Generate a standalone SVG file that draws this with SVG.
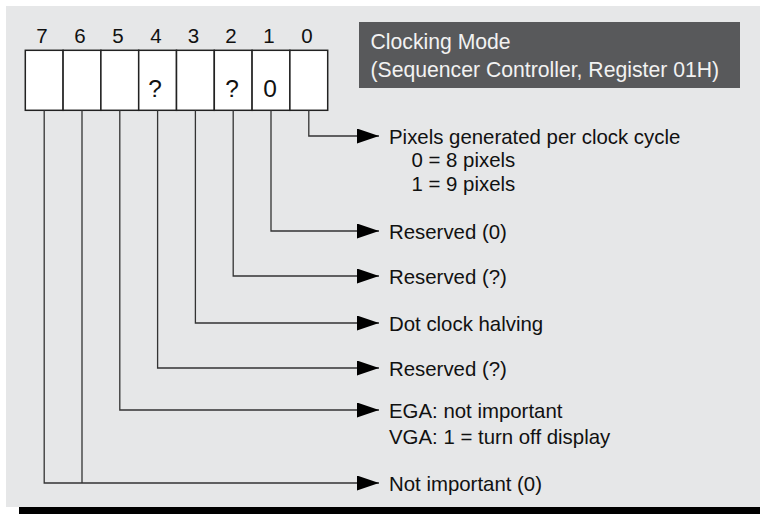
<svg xmlns="http://www.w3.org/2000/svg" width="760" height="514" viewBox="0 0 760 514">
<style>
text{font-family:"Liberation Sans",Arial,sans-serif;fill:#111}
.bit{font-size:20.5px;text-anchor:middle}
.val{font-size:24.5px;text-anchor:middle}
.lbl{font-size:20.4px}
.ttl{font-size:21.2px;fill:#f2f2f2}
.cell{fill:#fff;stroke:#222;stroke-width:1.5}
.wire{fill:none;stroke:#333;stroke-width:1.3}
</style>
<defs>
<marker id="ah" viewBox="0 0 22 15" refX="22" refY="7.5" markerWidth="22" markerHeight="15" markerUnits="userSpaceOnUse" orient="auto">
<path d="M0,0 L22,7.5 L0,15 Z" fill="#000"/>
</marker>
</defs>
<rect x="0" y="0" width="760" height="514" fill="#fff"/>
<rect x="6" y="6" width="754" height="501" fill="#e6e7e8"/>
<rect x="19" y="507" width="741" height="7" fill="#000"/>

<g id="title">
<rect x="359" y="22" width="381" height="66" fill="#58595b"/>
<text class="ttl" x="370.5" y="49">Clocking Mode</text>
<text class="ttl" x="370.5" y="77">(Sequencer Controller, Register 01H)</text>
</g>

<g id="register">
<rect class="cell" x="25.3" y="50.3" width="37.8" height="60"/>
<rect class="cell" x="63.1" y="50.3" width="37.8" height="60"/>
<rect class="cell" x="100.9" y="50.3" width="37.8" height="60"/>
<rect class="cell" x="138.7" y="50.3" width="37.8" height="60"/>
<rect class="cell" x="176.5" y="50.3" width="37.8" height="60"/>
<rect class="cell" x="214.3" y="50.3" width="37.8" height="60"/>
<rect class="cell" x="252.1" y="50.3" width="37.8" height="60"/>
<rect class="cell" x="289.9" y="50.3" width="37.8" height="60"/>
<text class="bit" x="42" y="42.7">7</text>
<text class="bit" x="80" y="42.7">6</text>
<text class="bit" x="118" y="42.7">5</text>
<text class="bit" x="156" y="42.7">4</text>
<text class="bit" x="193.5" y="42.7">3</text>
<text class="bit" x="231" y="42.7">2</text>
<text class="bit" x="269" y="42.7">1</text>
<text class="bit" x="307" y="42.7">0</text>
<text class="val" x="155" y="97">?</text>
<text class="val" x="232" y="97">?</text>
<text class="val" x="270" y="97">0</text>
</g>

<g id="connectors">
<path class="wire" d="M308.8,110.3 V136 H379" marker-end="url(#ah)"/>
<path class="wire" d="M271,110.3 V231 H379" marker-end="url(#ah)"/>
<path class="wire" d="M233.2,110.3 V276 H379" marker-end="url(#ah)"/>
<path class="wire" d="M195.4,110.3 V323 H379" marker-end="url(#ah)"/>
<path class="wire" d="M157.6,110.3 V368 H379" marker-end="url(#ah)"/>
<path class="wire" d="M119.8,110.3 V410 H379" marker-end="url(#ah)"/>
<path class="wire" d="M82,110.3 V483"/>
<path class="wire" d="M44.2,110.3 V483 H379" marker-end="url(#ah)"/>
</g>

<g id="label-bit0">
<text class="lbl" x="389" y="144">Pixels generated per clock cycle</text>
<text class="lbl" x="411.5" y="167">0 = 8 pixels</text>
<text class="lbl" x="411.5" y="191">1 = 9 pixels</text>
</g>
<g id="label-bit1"><text class="lbl" x="389" y="239">Reserved (0)</text></g>
<g id="label-bit2"><text class="lbl" x="389" y="284">Reserved (?)</text></g>
<g id="label-bit3"><text class="lbl" x="389" y="331">Dot clock halving</text></g>
<g id="label-bit4"><text class="lbl" x="389" y="376">Reserved (?)</text></g>
<g id="label-bit5">
<text class="lbl" x="389" y="418">EGA: not important</text>
<text class="lbl" x="389" y="444">VGA: 1 = turn off display</text>
</g>
<g id="label-bit76"><text class="lbl" x="389" y="491">Not important (0)</text></g>
</svg>
